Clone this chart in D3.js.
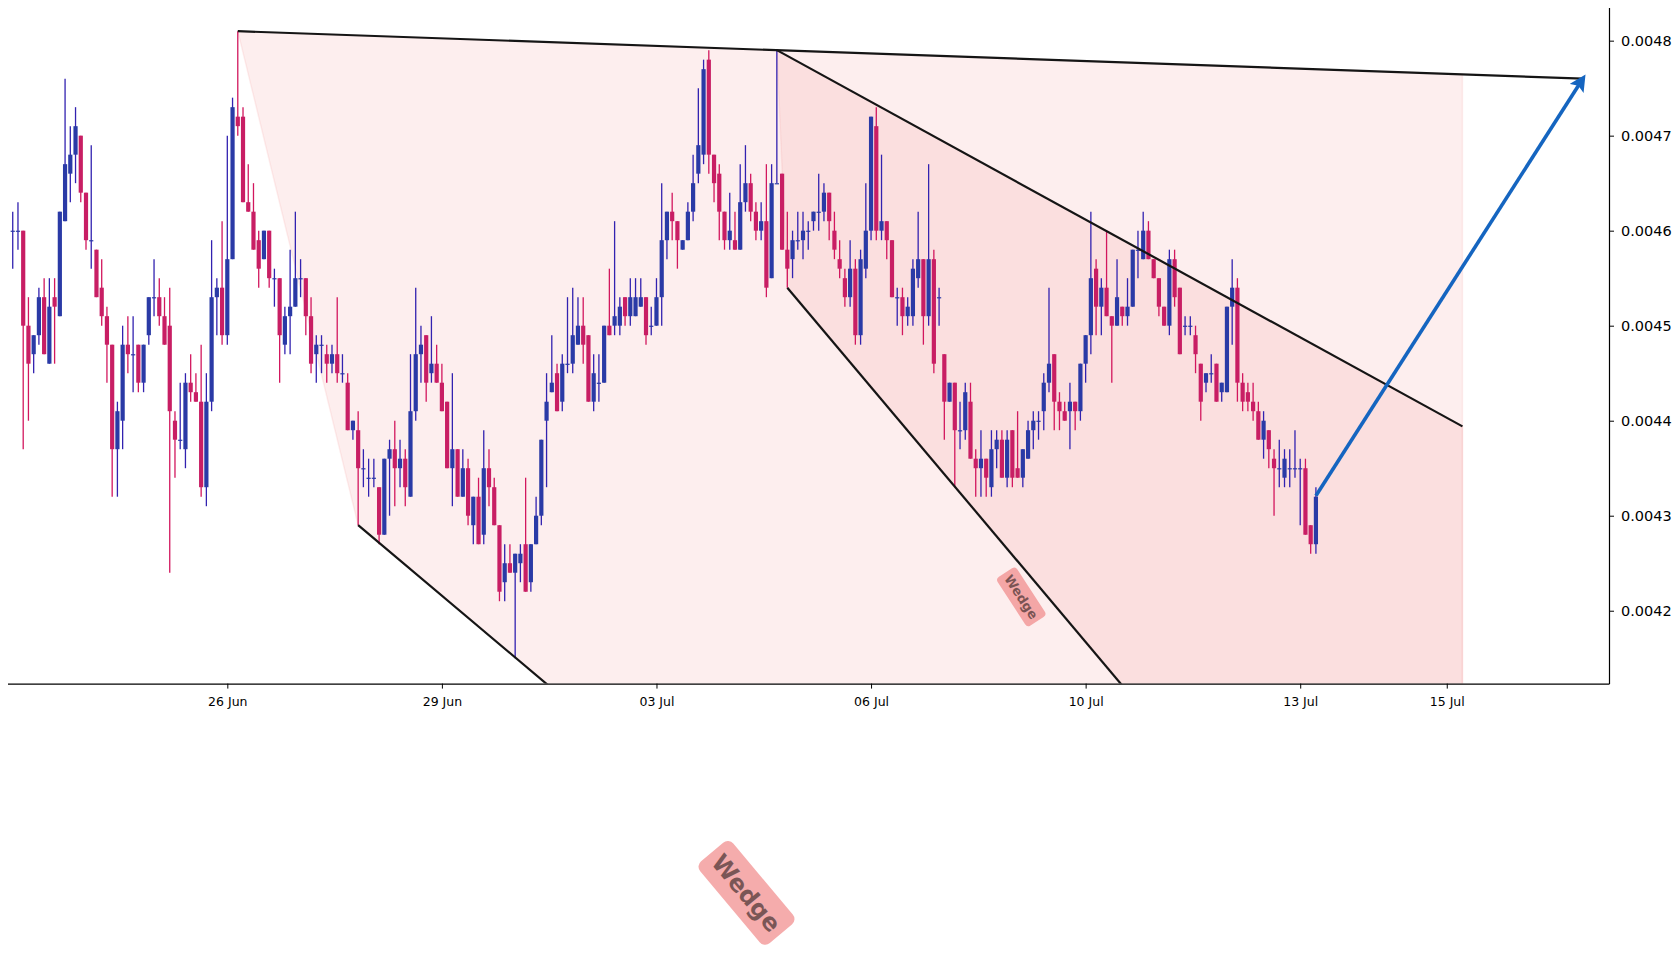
<!DOCTYPE html>
<html>
<head>
<meta charset="utf-8">
<script src="https://cdn.jsdelivr.net/npm/d3@7"></script>
<style>
  body { margin: 0; background: #fff; }
  text { font-family: "DejaVu Sans", sans-serif; }
</style>
</head>
<body>
<script>
// Candlestick chart with a falling wedge drawn on top
var width = 1680;
var height = 960;

var plot = {left: 7.5, right: 1609, top: 7.5, bottom: 683.6};

// x axis is the bar index, labelled at a few bars
var tickIndex = [41, 82, 123, 164, 205, 246, 274];
var tickLabel = ["26 Jun", "29 Jun", "03 Jul", "06 Jul", "10 Jul", "13 Jul", "15 Jul"];
var priceTicks = [0.0042, 0.0043, 0.0044, 0.0045, 0.0046, 0.0047, 0.0048];

var open = [
  0.00460,0.00460,0.00460,0.00450,0.00447,0.00449,0.00453,0.00446,0.00453,0.00451,
  0.00461,0.00466,0.00468,0.00470,0.00464,0.00459,0.00458,0.00454,0.00451,0.00448,
  0.00437,0.00440,0.00448,0.00447,0.00448,0.00444,0.00449,0.00453,0.00453,0.00451,
  0.00450,0.00440,0.00438,0.00437,0.00444,0.00443,0.00442,0.00433,0.00442,0.00453,
  0.00454,0.00449,0.00457,0.00472,0.00472,0.00463,0.00462,0.00459,0.00457,0.00460,
  0.00455,0.00455,0.00448,0.00451,0.00452,0.00455,0.00455,0.00451,0.00447,0.00448,
  0.00447,0.00446,0.00447,0.00445,0.00444,0.00439,0.00439,0.00435,0.00434,0.00434,
  0.00433,0.00428,0.00436,0.00437,0.00435,0.00436,0.00432,0.00441,0.00447,0.00449,
  0.00445,0.00446,0.00444,0.00442,0.00435,0.00437,0.00432,0.00435,0.00429,0.00432,
  0.00428,0.00435,0.00433,0.00429,0.00423,0.00425,0.00424,0.00425,0.00427,0.00423,
  0.00427,0.00430,0.00440,0.00443,0.00445,0.00442,0.00446,0.00446,0.00448,0.00450,
  0.00449,0.00442,0.00444,0.00444,0.00450,0.00450,0.00450,0.00453,0.00451,0.00451,
  0.00452,0.00453,0.00450,0.00450,0.00453,0.00459,0.00462,0.00461,0.00458,0.00459,
  0.00462,0.00466,0.00468,0.00478,0.00468,0.00466,0.00462,0.00459,0.00459,0.00458,
  0.00463,0.00465,0.00462,0.00460,0.00461,0.00455,0.00465,0.00466,0.00458,0.00457,
  0.00459,0.00459,0.00460,0.00461,0.00462,0.00462,0.00464,0.00460,0.00457,0.00455,
  0.00453,0.00456,0.00449,0.00456,0.00460,0.00471,0.00460,0.00461,0.00459,0.00453,
  0.00453,0.00451,0.00451,0.00455,0.00457,0.00451,0.00457,0.00453,0.00447,0.00442,
  0.00444,0.00439,0.00439,0.00442,0.00436,0.00435,0.00436,0.00433,0.00437,0.00438,
  0.00434,0.00439,0.00435,0.00434,0.00436,0.00439,0.00440,0.00441,0.00444,0.00447,
  0.00442,0.00441,0.00441,0.00442,0.00441,0.00446,0.00449,0.00456,0.00452,0.00454,
  0.00451,0.00450,0.00452,0.00451,0.00452,0.00458,0.00457,0.00460,0.00457,0.00455,
  0.00452,0.00450,0.00457,0.00454,0.00450,0.00450,0.00449,0.00446,0.00444,0.00445,
  0.00446,0.00443,0.00443,0.00452,0.00454,0.00444,0.00443,0.00442,0.00441,0.00438,
  0.00439,0.00436,0.00435,0.00434,0.00435,0.00435,0.00435,0.00435,0.00429,0.00427
];
var high = [
  0.00462,0.00463,0.00460,0.00453,0.00449,0.00454,0.00455,0.00455,0.00455,0.00462,
  0.00476,0.00471,0.00473,0.00470,0.00464,0.00469,0.00458,0.00457,0.00452,0.00448,
  0.00442,0.00450,0.00451,0.00451,0.00448,0.00448,0.00453,0.00457,0.00455,0.00453,
  0.00454,0.00441,0.00444,0.00445,0.00447,0.00445,0.00448,0.00445,0.00459,0.00455,
  0.00461,0.00470,0.00474,0.00481,0.00473,0.00467,0.00465,0.00460,0.00460,0.00460,
  0.00456,0.00455,0.00452,0.00458,0.00462,0.00457,0.00455,0.00453,0.00449,0.00449,
  0.00448,0.00448,0.00453,0.00447,0.00445,0.00440,0.00441,0.00437,0.00436,0.00436,
  0.00433,0.00436,0.00438,0.00440,0.00438,0.00437,0.00447,0.00454,0.00450,0.00449,
  0.00451,0.00448,0.00446,0.00442,0.00445,0.00437,0.00437,0.00436,0.00432,0.00434,
  0.00439,0.00437,0.00434,0.00429,0.00427,0.00427,0.00426,0.00427,0.00434,0.00427,
  0.00432,0.00438,0.00445,0.00449,0.00446,0.00447,0.00453,0.00454,0.00453,0.00453,
  0.00449,0.00447,0.00447,0.00450,0.00456,0.00461,0.00453,0.00453,0.00455,0.00455,
  0.00455,0.00453,0.00452,0.00455,0.00465,0.00462,0.00464,0.00461,0.00459,0.00463,
  0.00468,0.00475,0.00478,0.00479,0.00468,0.00467,0.00462,0.00464,0.00462,0.00467,
  0.00469,0.00466,0.00463,0.00463,0.00467,0.00467,0.00479,0.00466,0.00462,0.00460,
  0.00462,0.00462,0.00461,0.00462,0.00466,0.00465,0.00464,0.00462,0.00459,0.00456,
  0.00459,0.00457,0.00458,0.00465,0.00472,0.00473,0.00468,0.00461,0.00459,0.00454,
  0.00454,0.00453,0.00457,0.00462,0.00457,0.00467,0.00458,0.00454,0.00447,0.00444,
  0.00444,0.00442,0.00444,0.00444,0.00437,0.00439,0.00436,0.00439,0.00439,0.00439,
  0.00439,0.00439,0.00441,0.00437,0.00440,0.00441,0.00441,0.00445,0.00454,0.00447,
  0.00443,0.00442,0.00444,0.00442,0.00446,0.00449,0.00462,0.00457,0.00455,0.00460,
  0.00451,0.00457,0.00452,0.00455,0.00458,0.00460,0.00462,0.00461,0.00457,0.00455,
  0.00452,0.00458,0.00458,0.00454,0.00451,0.00451,0.00450,0.00446,0.00445,0.00447,
  0.00446,0.00444,0.00452,0.00457,0.00455,0.00445,0.00444,0.00444,0.00442,0.00441,
  0.00439,0.00437,0.00438,0.00437,0.00437,0.00439,0.00436,0.00436,0.00429,0.00433
];
var low = [
  0.00456,0.00458,0.00437,0.00440,0.00445,0.00448,0.00447,0.00446,0.00446,0.00451,
  0.00461,0.00463,0.00465,0.00463,0.00458,0.00456,0.00453,0.00450,0.00444,0.00432,
  0.00432,0.00437,0.00445,0.00443,0.00443,0.00443,0.00448,0.00451,0.00450,0.00448,
  0.00424,0.00434,0.00437,0.00435,0.00442,0.00442,0.00432,0.00431,0.00441,0.00449,
  0.00448,0.00448,0.00457,0.00470,0.00463,0.00462,0.00458,0.00454,0.00457,0.00454,
  0.00452,0.00444,0.00447,0.00447,0.00452,0.00453,0.00449,0.00445,0.00444,0.00445,
  0.00444,0.00445,0.00444,0.00444,0.00439,0.00438,0.00429,0.00433,0.00432,0.00433,
  0.00427,0.00428,0.00430,0.00431,0.00433,0.00431,0.00432,0.00440,0.00444,0.00442,
  0.00444,0.00444,0.00441,0.00435,0.00431,0.00432,0.00432,0.00429,0.00427,0.00427,
  0.00427,0.00431,0.00429,0.00421,0.00421,0.00424,0.00415,0.00423,0.00422,0.00422,
  0.00427,0.00429,0.00433,0.00443,0.00441,0.00441,0.00445,0.00445,0.00448,0.00446,
  0.00442,0.00441,0.00442,0.00444,0.00449,0.00449,0.00449,0.00450,0.00450,0.00451,
  0.00452,0.00448,0.00449,0.00450,0.00450,0.00457,0.00459,0.00456,0.00458,0.00459,
  0.00461,0.00465,0.00467,0.00466,0.00463,0.00459,0.00458,0.00458,0.00458,0.00458,
  0.00462,0.00461,0.00459,0.00459,0.00453,0.00455,0.00465,0.00458,0.00454,0.00455,
  0.00458,0.00457,0.00458,0.00460,0.00460,0.00461,0.00459,0.00457,0.00455,0.00452,
  0.00452,0.00448,0.00448,0.00455,0.00459,0.00459,0.00459,0.00457,0.00453,0.00450,
  0.00449,0.00450,0.00450,0.00454,0.00448,0.00450,0.00445,0.00450,0.00438,0.00442,
  0.00433,0.00437,0.00438,0.00436,0.00432,0.00432,0.00432,0.00432,0.00435,0.00434,
  0.00433,0.00433,0.00434,0.00433,0.00436,0.00437,0.00438,0.00439,0.00443,0.00439,
  0.00439,0.00440,0.00437,0.00439,0.00440,0.00444,0.00447,0.00449,0.00449,0.00451,
  0.00444,0.00450,0.00450,0.00450,0.00452,0.00455,0.00457,0.00457,0.00455,0.00451,
  0.00450,0.00449,0.00452,0.00447,0.00449,0.00449,0.00445,0.00440,0.00443,0.00444,
  0.00442,0.00442,0.00443,0.00448,0.00442,0.00441,0.00441,0.00440,0.00438,0.00436,
  0.00435,0.00430,0.00433,0.00433,0.00433,0.00434,0.00429,0.00428,0.00426,0.00426
];
var close = [
  0.00460,0.00460,0.00450,0.00446,0.00449,0.00453,0.00447,0.00452,0.00452,0.00462,
  0.00467,0.00468,0.00471,0.00464,0.00459,0.00459,0.00453,0.00451,0.00448,0.00437,
  0.00441,0.00448,0.00447,0.00447,0.00444,0.00448,0.00453,0.00453,0.00451,0.00448,
  0.00441,0.00438,0.00438,0.00444,0.00443,0.00442,0.00433,0.00442,0.00453,0.00454,
  0.00449,0.00457,0.00473,0.00471,0.00463,0.00462,0.00458,0.00456,0.00460,0.00455,
  0.00455,0.00449,0.00451,0.00452,0.00455,0.00455,0.00451,0.00446,0.00448,0.00448,
  0.00446,0.00447,0.00445,0.00445,0.00439,0.00440,0.00435,0.00435,0.00434,0.00434,
  0.00428,0.00436,0.00437,0.00435,0.00436,0.00433,0.00441,0.00447,0.00448,0.00444,
  0.00446,0.00444,0.00441,0.00435,0.00437,0.00432,0.00435,0.00430,0.00432,0.00427,
  0.00435,0.00433,0.00429,0.00422,0.00425,0.00424,0.00426,0.00426,0.00422,0.00427,
  0.00430,0.00438,0.00442,0.00444,0.00441,0.00446,0.00446,0.00449,0.00450,0.00448,
  0.00442,0.00445,0.00444,0.00450,0.00449,0.00451,0.00452,0.00451,0.00453,0.00453,
  0.00453,0.00449,0.00450,0.00453,0.00459,0.00462,0.00461,0.00459,0.00459,0.00462,
  0.00465,0.00469,0.00477,0.00468,0.00465,0.00462,0.00459,0.00460,0.00458,0.00463,
  0.00465,0.00462,0.00460,0.00461,0.00454,0.00465,0.00465,0.00458,0.00456,0.00459,
  0.00459,0.00460,0.00460,0.00462,0.00462,0.00464,0.00461,0.00458,0.00456,0.00453,
  0.00456,0.00449,0.00457,0.00460,0.00472,0.00460,0.00461,0.00459,0.00453,0.00453,
  0.00451,0.00452,0.00456,0.00457,0.00451,0.00457,0.00446,0.00453,0.00442,0.00444,
  0.00439,0.00439,0.00443,0.00436,0.00435,0.00436,0.00434,0.00437,0.00438,0.00434,
  0.00438,0.00434,0.00434,0.00437,0.00439,0.00440,0.00440,0.00444,0.00446,0.00442,
  0.00441,0.00440,0.00442,0.00441,0.00446,0.00449,0.00455,0.00452,0.00454,0.00451,
  0.00450,0.00453,0.00451,0.00452,0.00458,0.00458,0.00460,0.00457,0.00455,0.00452,
  0.00450,0.00457,0.00453,0.00447,0.00450,0.00450,0.00447,0.00442,0.00445,0.00445,
  0.00442,0.00444,0.00452,0.00454,0.00444,0.00442,0.00442,0.00441,0.00438,0.00440,
  0.00437,0.00435,0.00435,0.00436,0.00435,0.00435,0.00435,0.00428,0.00427,0.00432
];

// wedge drawing, points as [bar index, price]
var outerTop = [[43, 0.004810], [300, 0.004760]];
var outerLow = [[66, 0.004290], [277, 0.003311]];
var outerZone = [[43, 0.004810], [277, 0.0047646], [277, 0.003311], [66, 0.004290]];
var innerTop = [[146, 0.004790], [277, 0.004394]];
var innerLow = [[148, 0.004540], [277, 0.003696]];
var innerZone = [[146, 0.004790], [277, 0.004394], [277, 0.003696], [148, 0.004540]];
var target = [[249, 0.004321], [300, 0.004760]];

var svg = d3.select("body")
  .append("svg")
  .attr("width", width)
  .attr("height", height);

var xScale = d3.scaleLinear()
  .domain([-1, 305])
  .range([plot.left, plot.right]);

var yScale = d3.scaleLinear()
  .domain([0.0041233, 0.0048349])
  .range([plot.bottom, plot.top]);

svg.append("clipPath").attr("id", "clip")
  .append("rect")
  .attr("x", plot.left).attr("y", plot.top)
  .attr("width", plot.right - plot.left)
  .attr("height", plot.bottom - plot.top);

var line = d3.line()
  .x(function(d) { return xScale(d[0]); })
  .y(function(d) { return yScale(d[1]); });

var zones = svg.append("g").attr("clip-path", "url(#clip)");
[outerZone, innerZone].forEach(function(z) {
  zones.append("path")
    .attr("d", line(z) + "Z")
    .attr("fill", "#f08080")
    .attr("fill-opacity", 0.134)
    .attr("stroke", "#f08080")
    .attr("stroke-opacity", 0.13)
    .attr("stroke-width", 1.5);
});

// candles
var bars = d3.range(open.length).map(function(i) {
  return {i: i, o: open[i], h: high[i], l: low[i], c: close[i]};
});

var candles = svg.append("g").selectAll("g")
  .data(bars)
  .enter()
  .append("g");

candles.append("line")
  .attr("x1", function(d) { return xScale(d.i); })
  .attr("x2", function(d) { return xScale(d.i); })
  .attr("y1", function(d) { return yScale(d.h); })
  .attr("y2", function(d) { return yScale(d.l); })
  .attr("stroke", function(d) { return d.c >= d.o ? "#3222b0" : "#d2175e"; })
  .attr("stroke-width", 1.3);

candles.append("rect")
  .attr("x", function(d) { return xScale(d.i) - 2.1; })
  .attr("width", 4.2)
  .attr("y", function(d) { return yScale(Math.max(d.o, d.c)); })
  .attr("height", function(d) { return Math.max(1.2, Math.abs(yScale(d.o) - yScale(d.c))); })
  .attr("fill", function(d) { return d.c >= d.o ? "#2a3aa6" : "#c81e64"; });

// wedge lines
var lines = svg.append("g").attr("clip-path", "url(#clip)");
[outerTop, outerLow, innerTop, innerLow].forEach(function(l) {
  lines.append("path")
    .attr("d", line(l))
    .attr("fill", "none")
    .attr("stroke", "#151515")
    .attr("stroke-width", 2.2);
});

// target arrow
svg.append("defs").append("marker")
  .attr("id", "head")
  .attr("viewBox", "0 0 10 10")
  .attr("refX", 7).attr("refY", 5)
  .attr("markerWidth", 4.6).attr("markerHeight", 4.6)
  .attr("markerUnits", "strokeWidth")
  .attr("orient", "auto")
  .append("path")
  .attr("d", "M0,0 L10,5 L0,10 L2,5 Z")
  .attr("fill", "#1565c0");

svg.append("path")
  .attr("d", line(target))
  .attr("stroke", "#1565c0")
  .attr("stroke-width", 3.6)
  .attr("fill", "none")
  .attr("marker-end", "url(#head)");

// axes
var xAxis = svg.append("g")
  .attr("transform", "translate(0," + plot.bottom + ")")
  .call(d3.axisBottom(xScale)
    .tickValues(tickIndex)
    .tickFormat(function(d, i) { return tickLabel[i]; })
    .tickSize(5).tickSizeOuter(0).tickPadding(9));
xAxis.selectAll("text").style("font-size", "12.5px").attr("fill", "#000");

var yAxis = svg.append("g")
  .attr("transform", "translate(" + plot.right + ",0)")
  .call(d3.axisRight(yScale)
    .tickValues(priceTicks)
    .tickFormat(d3.format(".4f"))
    .tickSize(5).tickSizeOuter(0).tickPadding(7));
yAxis.selectAll("text").style("font-size", "14.5px").attr("fill", "#000");

[xAxis, yAxis].forEach(function(a) {
  a.select(".domain").attr("stroke", "#000").attr("stroke-width", 1.2);
  a.selectAll(".tick line").attr("stroke", "#000");
});

// wedge labels
function addLabel(i, p, size, angle) {
  var g = svg.append("g")
    .attr("transform", "translate(" + xScale(i) + "," + yScale(p) + ") rotate(" + angle + ")");
  var box = g.append("rect");
  var t = g.append("text")
    .attr("text-anchor", "middle")
    .attr("dy", "0.36em")
    .style("font-size", size + "px")
    .style("font-weight", "bold")
    .attr("fill", "#000")
    .attr("fill-opacity", 0.5)
    .text("Wedge");
  var w = t.node().getComputedTextLength();
  var pad = size * 0.3;
  box.attr("x", -w / 2 - pad)
    .attr("y", -size * 0.6 - pad)
    .attr("width", w + 2 * pad)
    .attr("height", size * 1.2 + 2 * pad)
    .attr("rx", pad).attr("ry", pad)
    .attr("fill", "#f08080")
    .attr("fill-opacity", 0.65);
}
addLabel(192.7, 0.0042146, 13, 57);
addLabel(140.2, 0.003903, 24, 50);
</script>
</body>
</html>
